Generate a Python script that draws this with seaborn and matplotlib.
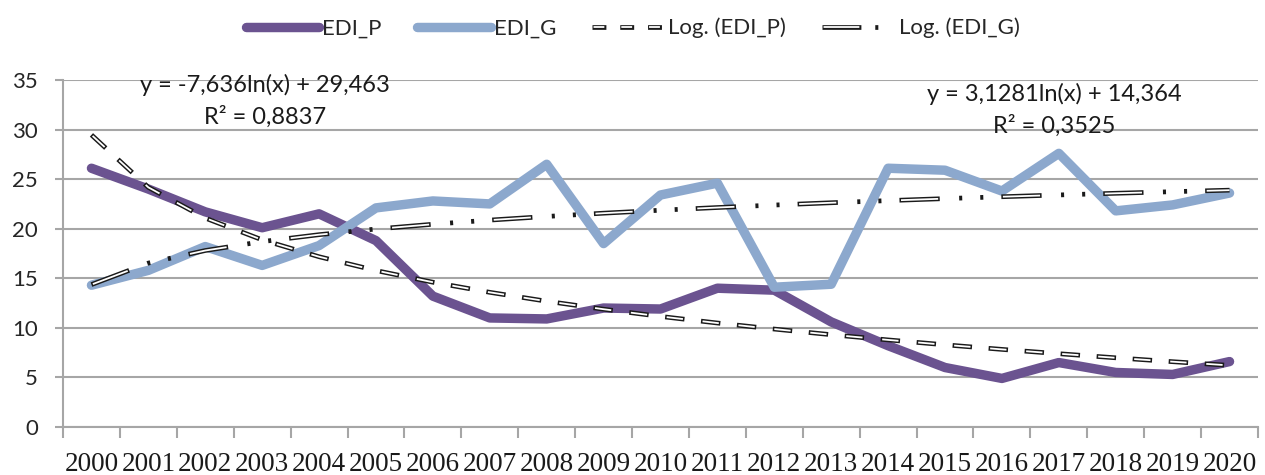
import numpy as np
import pandas as pd
import matplotlib
matplotlib.use("Agg")
import matplotlib.pyplot as plt
import seaborn as sns
from matplotlib.lines import Line2D
from matplotlib.legend_handler import HandlerTuple

years = [str(y) for y in range(2000, 2021)]
edi_p = [26.1, 24.0, 21.7, 20.1, 21.5, 18.8, 13.2, 11.0, 10.9, 12.0, 11.9,
         14.0, 13.8, 10.6, 8.2, 6.0, 4.9, 6.5, 5.5, 5.3, 6.6]
edi_g = [14.3, 15.8, 18.2, 16.3, 18.3, 22.1, 22.8, 22.5, 26.5, 18.5, 23.4,
         24.6, 14.1, 14.4, 26.1, 25.9, 23.8, 27.6, 21.8, 22.4, 23.6]
# logarithmic trendline coefficients, as printed on the chart
p_slope, p_icpt = -7.636, 29.463
g_slope, g_icpt = 3.1281, 14.364
eq_p = ["y = -7,636ln(x) + 29,463", "R² = 0,8837"]
eq_g = ["y = 3,1281ln(x) + 14,364", "R² = 0,3525"]

c_p = "#6b5390"
c_g = "#8ca8cd"
grid_c = "#a6a6a6"

sns.set_theme(style="white")
plt.rcParams["font.family"] = ["Lato", "DejaVu Sans"]
plt.rcParams["lines.scale_dashes"] = False

pos = np.arange(len(years))
xv = pos + 1
df = pd.DataFrame({"pos": pos, "EDI_P": edi_p, "EDI_G": edi_g,
                   "trend_p": p_slope * np.log(xv) + p_icpt,
                   "trend_g": g_slope * np.log(xv) + g_icpt})

fig = plt.figure(figsize=(12.65, 4.75), dpi=100)
ax = fig.add_axes([63 / 1265, 1 - 427 / 475, (1258 - 63) / 1265, (427 - 80) / 475])

lw_s = 6.8
sns.lineplot(data=df, x="pos", y="EDI_P", ax=ax, color=c_p, lw=lw_s,
             solid_joinstyle="round", solid_capstyle="round", zorder=3)
sns.lineplot(data=df, x="pos", y="EDI_G", ax=ax, color=c_g, lw=lw_s,
             solid_joinstyle="round", solid_capstyle="round", zorder=3)

# compound (double) trendlines: black outline + white core
blk_lw, wht_lw, ins = 3.4, 1.3, 1.1
dash_p_on, dash_p_off = 14.0, 12.0
ls_p_blk = (0, (dash_p_on, dash_p_off))
per_p = dash_p_on + dash_p_off
ls_p_wht = (per_p - ins, (dash_p_on - 2 * ins, dash_p_off + 2 * ins))

g_long, g_gap, g_dot, g_gap2 = 29.0, 14.0, 2.2, 13.0
ls_g_blk = (0, (g_long, g_gap, g_dot, g_gap2, g_dot, g_gap2))
per_g = g_long + g_gap + 2 * g_dot + 2 * g_gap2
ls_g_wht = (per_g - ins, (g_long - 2 * ins, per_g - g_long + 2 * ins))

for col, lb, lwht in [("trend_p", ls_p_blk, ls_p_wht), ("trend_g", ls_g_blk, ls_g_wht)]:
    sns.lineplot(data=df, x="pos", y=col, ax=ax, color="#1a1a1a", lw=blk_lw,
                 linestyle=lb, dash_capstyle="butt", zorder=4)
    sns.lineplot(data=df, x="pos", y=col, ax=ax, color="white", lw=wht_lw,
                 linestyle=lwht, dash_capstyle="butt", zorder=5)

ax.set_xlim(-0.5, len(years) - 0.5)
ax.set_ylim(0, 35)
ax.set_yticks(np.arange(0, 36, 5))
ax.set_xticks(pos)
ax.set_xticklabels(years, family=["Liberation Serif"], fontsize=19.5)
ax.set_xticks(np.arange(-0.5, len(years), 1), minor=True)
ax.tick_params(axis="x", which="major", length=0, pad=18)
ax.tick_params(axis="x", which="minor", length=8, width=1.5, color=grid_c, direction="out", bottom=True)
ax.tick_params(axis="y", length=6, width=1.5, color=grid_c, labelsize=16, pad=12, left=True)
for lab in ax.get_yticklabels():
    lab.set_color("#262626")
for lab in ax.get_xticklabels():
    lab.set_color("#1a1a1a")
ax.grid(axis="y", color=grid_c, lw=1.5)
ax.grid(axis="x", visible=False)
ax.set_axisbelow(True)
for s in ["top", "right"]:
    ax.spines[s].set_visible(False)
for s in ["left", "bottom"]:
    ax.spines[s].set_color(grid_c)
    ax.spines[s].set_linewidth(1.5)
ax.set_xlabel("")
ax.set_ylabel("")

fs_eq = 17
ax.text(3.05, 34.5, eq_p[0], ha="center", va="center", fontsize=fs_eq, color="#1a1a1a", zorder=6)
ax.text(3.05, 31.3, eq_p[1], ha="center", va="center", fontsize=fs_eq, color="#1a1a1a", zorder=6)
ax.text(16.92, 33.6, eq_g[0], ha="center", va="center", fontsize=fs_eq, color="#1a1a1a", zorder=6)
ax.text(16.92, 30.4, eq_g[1], ha="center", va="center", fontsize=fs_eq, color="#1a1a1a", zorder=6)

h_p = Line2D([], [], color=c_p, lw=lw_s, solid_capstyle="round")
h_g = Line2D([], [], color=c_g, lw=lw_s, solid_capstyle="round")
h_tp = (Line2D([], [], color="#1a1a1a", lw=blk_lw, linestyle=(0, (10, 10)), dash_capstyle="butt"),
        Line2D([], [], color="white", lw=wht_lw, linestyle=(20 - ins, (10 - 2 * ins, 10 + 2 * ins)), dash_capstyle="butt"))
h_tg = (Line2D([], [], color="#1a1a1a", lw=blk_lw, linestyle=(0, (28, 10, 2.2, 30)), dash_capstyle="butt"),
        Line2D([], [], color="white", lw=wht_lw, linestyle=(70.2 - ins, (28 - 2 * ins, 42.2 + 2 * ins)), dash_capstyle="butt"))
fig.legend([h_p, h_g, h_tp, h_tg], ["EDI_P", "EDI_G", "Log. (EDI_P)", "Log. (EDI_G)"],
           handler_map={tuple: HandlerTuple(ndivide=1)},
           loc="center", bbox_to_anchor=(0.5, 1 - 28 / 475), ncol=4, frameon=False,
           fontsize=16, handlelength=3.3, handletextpad=0.15, columnspacing=1.6)

fig.savefig("out.png", dpi=100)
